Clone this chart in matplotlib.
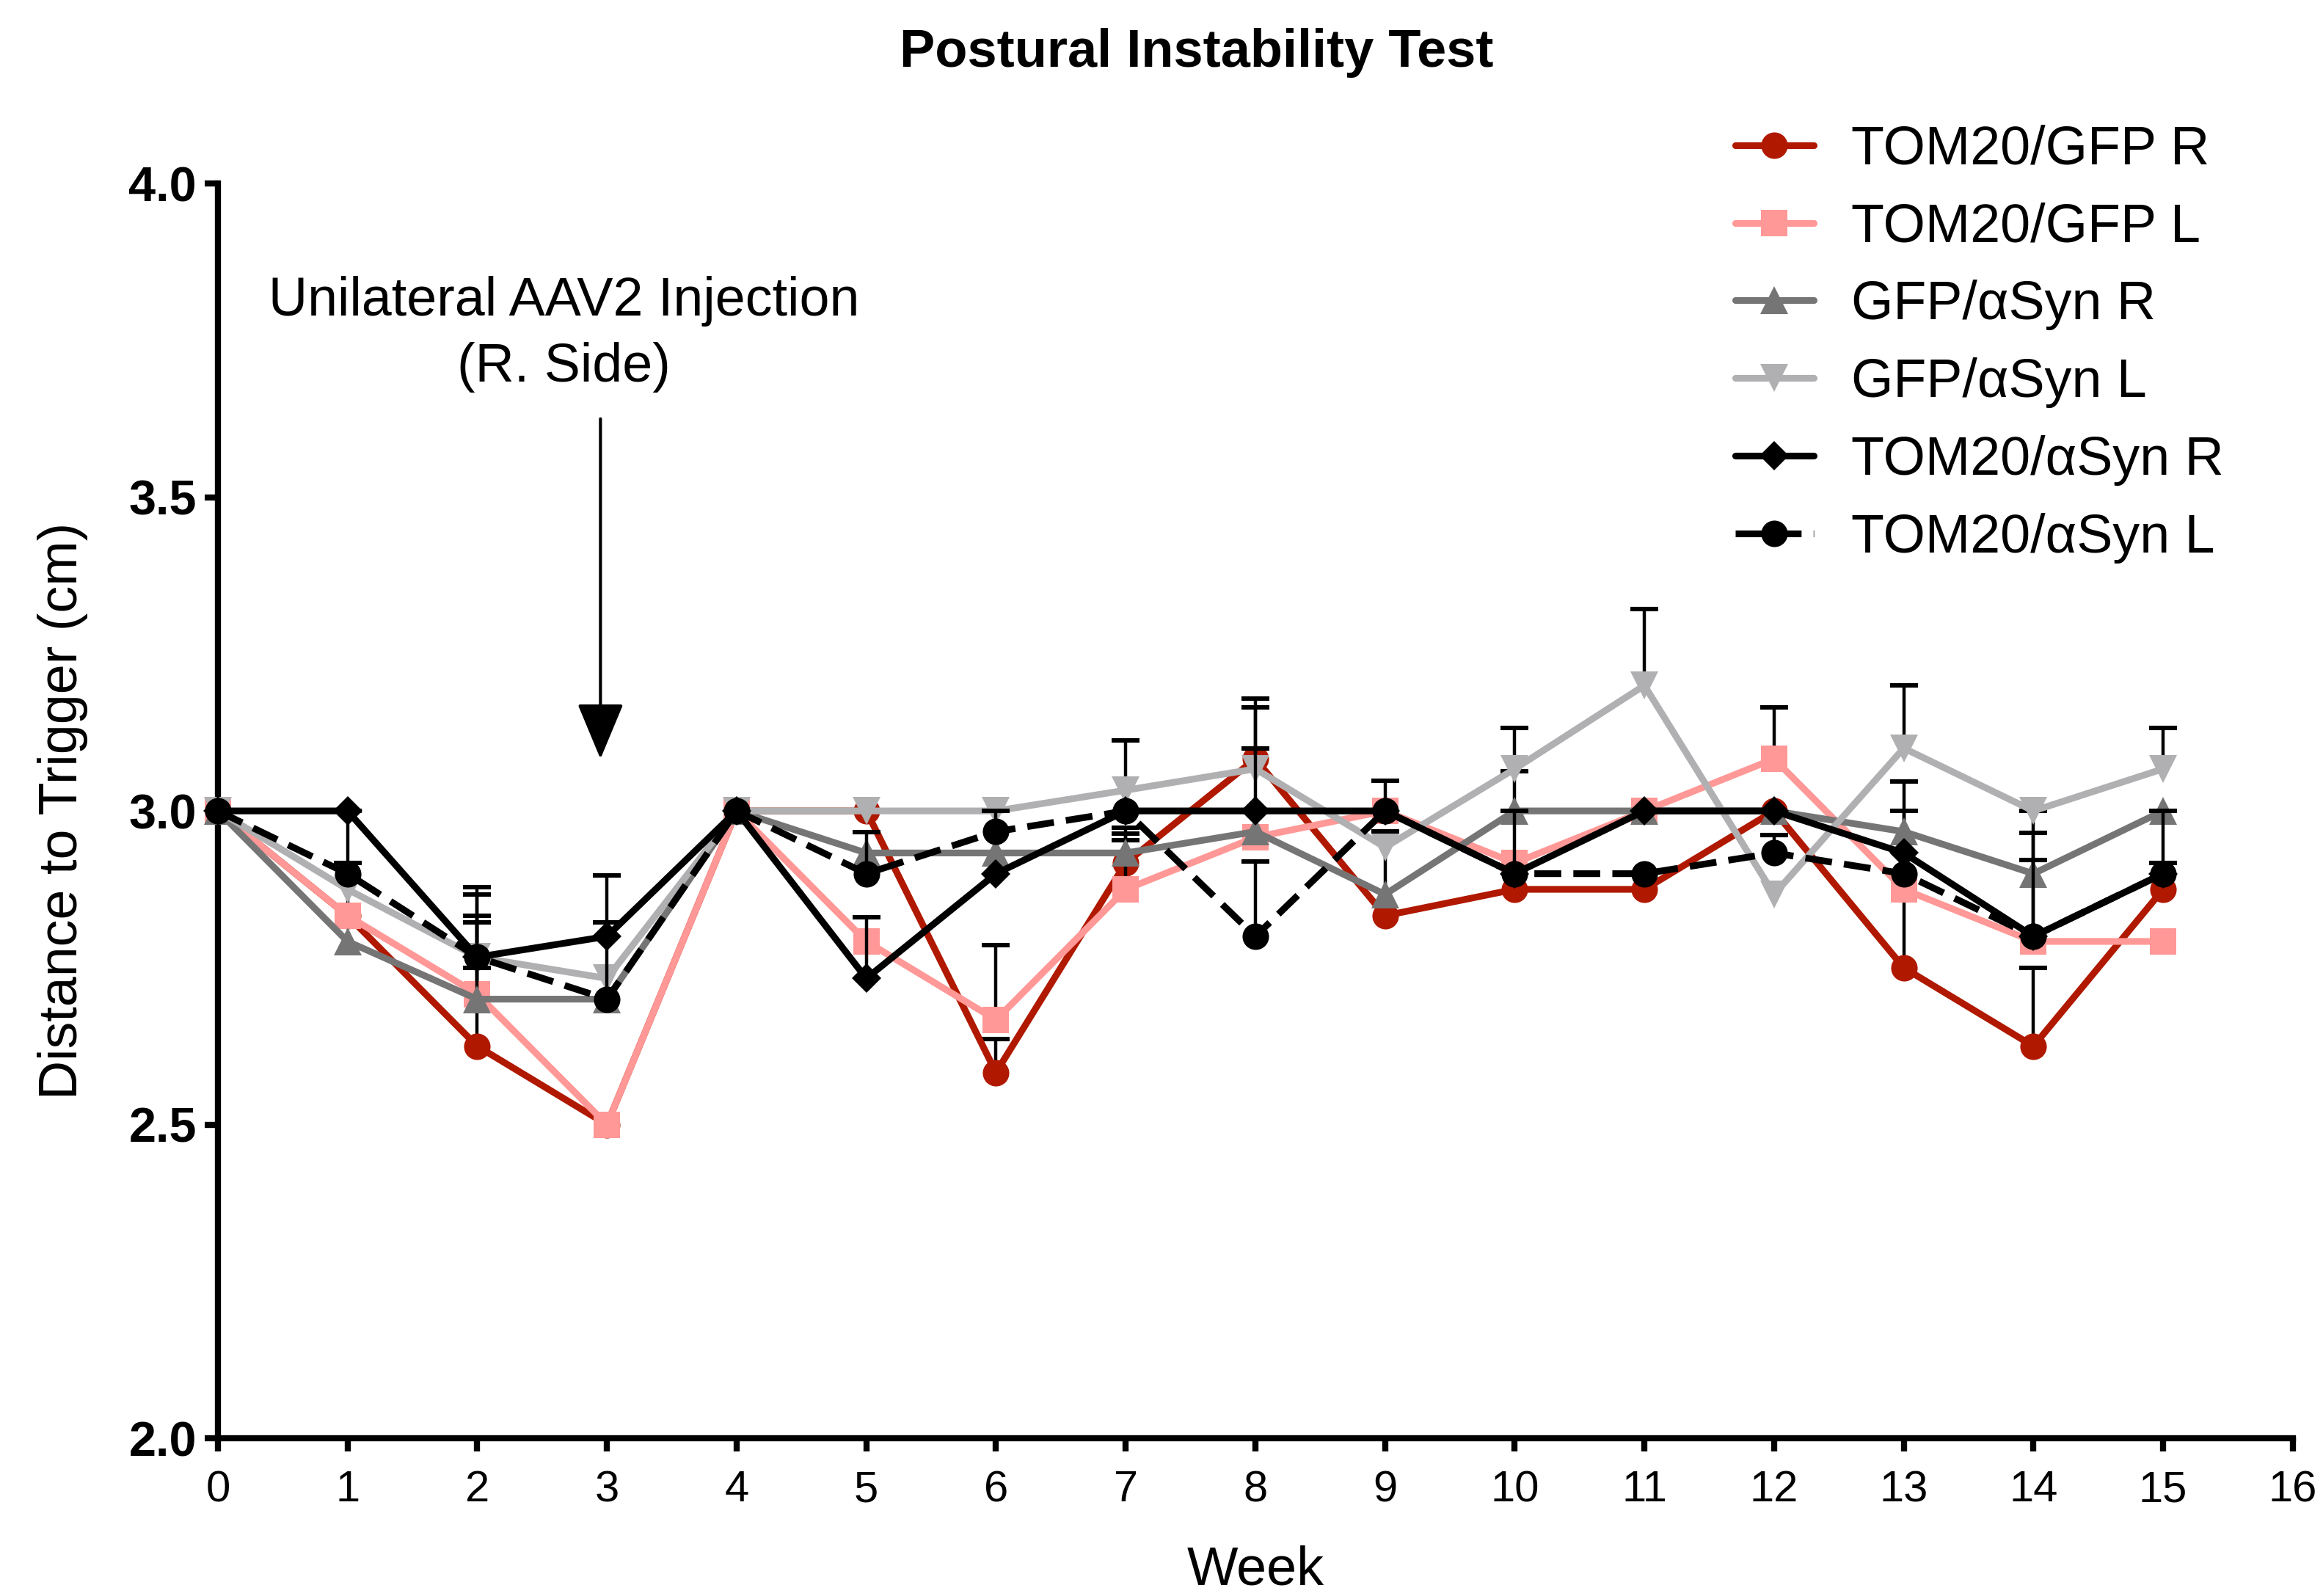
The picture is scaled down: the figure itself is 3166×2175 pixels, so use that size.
import numpy as np
import matplotlib
matplotlib.use("Agg")
import matplotlib.pyplot as plt

plt.rcParams['font.family'] = ['Liberation Sans', 'DejaVu Sans']

# weeks after start
weeks = np.arange(16)

labels = ["TOM20/GFP R", "TOM20/GFP L", "GFP/αSyn R", "GFP/αSyn L",
          "TOM20/αSyn R", "TOM20/αSyn L"]

# group means (cm)
tom_gfp_r = [3.0, 2.833, 2.625, 2.5, 3.0, 3.0, 2.583, 2.917, 3.083, 2.833, 2.875, 2.875, 3.0, 2.75, 2.625, 2.875]
tom_gfp_l = [3.0, 2.833, 2.708, 2.5, 3.0, 2.792, 2.667, 2.875, 2.958, 3.0, 2.917, 3.0, 3.083, 2.875, 2.792, 2.792]
gfp_syn_r = [3.0, 2.792, 2.7, 2.7, 3.0, 2.933, 2.933, 2.933, 2.967, 2.867, 3.0, 3.0, 3.0, 2.967, 2.9, 3.0]
gfp_syn_l = [3.0, 2.875, 2.767, 2.733, 3.0, 3.0, 3.0, 3.033, 3.067, 2.942, 3.067, 3.2, 2.867, 3.1, 3.0, 3.067]
tom_syn_r = [3.0, 3.0, 2.767, 2.8, 3.0, 2.733, 2.9, 3.0, 3.0, 3.0, 2.9, 3.0, 3.0, 2.933, 2.8, 2.9]
tom_syn_l = [3.0, 2.9, 2.767, 2.7, 3.0, 2.9, 2.967, 3.0, 2.8, 3.0, 2.9, 2.9, 2.933, 2.9, 2.8, 2.9]

# upper SEM bars (nan = no visible bar)
n = np.nan
err_tom_gfp_r = [n, n, 0.208, n, n, n, 0.053, 0.056, 0.096, n, n, n, n, 0.25, 0.125, 0.042]
err_tom_gfp_l = [n, 0.167, 0.114, n, n, n, 0.119, 0.089, n, n, n, n, 0.082, n, 0.13, n]
err_gfp_syn_r = [n, n, 0.05, n, n, n, n, 0.02, n, 0.1, 0.063, n, n, 0.08, 0.1, n]
err_gfp_syn_l = [n, n, 0.112, n, n, n, n, 0.08, 0.098, n, 0.065, 0.122, n, 0.1, n, 0.065]
err_tom_syn_r = [n, n, 0.1, 0.097, n, 0.097, n, n, 0.099, n, n, n, n, n, 0.165, n]
err_tom_syn_l = [n, 0.017, n, 0.122, n, 0.066, 0.033, n, 0.12, 0.048, 0.1, n, 0.029, n, n, 0.1]

means = [tom_gfp_r, tom_gfp_l, gfp_syn_r, gfp_syn_l, tom_syn_r, tom_syn_l]
errs = [err_tom_gfp_r, err_tom_gfp_l, err_gfp_syn_r, err_gfp_syn_l, err_tom_syn_r, err_tom_syn_l]

colors = ['#B01800', '#FF9896', '#757575', '#B0B0B2', '#000000', '#000000']
markers = ['o', 's', '^', 'v', 'D', 'o']
msizes = [13, 13, 13.5, 13.5, 10, 13]
styles = ['-', '-', '-', '-', '-', (0, (4, 1.8))]

fig = plt.figure(figsize=(15.83, 10.875), dpi=200)
ax = fig.add_axes([0.0938, 0.0988, 0.8932, 0.7862])

for i in range(6):
    y = np.array(means[i])
    e = np.array(errs[i])
    eb = ax.errorbar(weeks, y, yerr=[np.zeros_like(e), e], fmt='none',
                     ecolor='black', elinewidth=1.6, capsize=7, capthick=2.2,
                     zorder=2 + i * 0.5)
    eb[1][0].set_visible(False)
    for c in eb[1]:
        c.set_clip_on(False)
    ax.plot(weeks, y, color=colors[i], marker=markers[i], markersize=msizes[i],
            linestyle=styles[i], linewidth=3.3, label=labels[i],
            markeredgewidth=0, clip_on=False, solid_capstyle='round',
            zorder=2.2 + i * 0.5)

ax.set_xlim(0, 16)
ax.set_ylim(2.0, 4.0)
ax.set_xticks(np.arange(0, 17))
ax.set_yticks([2.0, 2.5, 3.0, 3.5, 4.0])
ax.set_yticklabels(['2.0', '2.5', '3.0', '3.5', '4.0'], fontweight='bold')
ax.tick_params(axis='both', direction='out', length=6.5, width=3.0)
ax.tick_params(axis='x', labelsize=21.5, pad=9)
ax.tick_params(axis='y', labelsize=24, pad=4)
for s in ['top', 'right']:
    ax.spines[s].set_visible(False)
for s in ['left', 'bottom']:
    ax.spines[s].set_linewidth(3.0)

ax.set_xlabel('Week', fontsize=26.5, labelpad=17)
ax.set_ylabel('Distance to Trigger (cm)', fontsize=26.5, labelpad=20)

fig.text(0.515, 0.967, 'Postural Instability Test', fontsize=26,
         fontweight='bold', ha='center', va='center')

ax.text(2.67, 3.76, 'Unilateral AAV2 Injection\n(R. Side)', fontsize=26.5,
        ha='center', va='center', multialignment='center', linespacing=1.4)
ax.annotate('', xy=(2.95, 3.083), xytext=(2.95, 3.625),
            arrowprops=dict(arrowstyle='-|>,head_length=1.2,head_width=0.5',
                            mutation_scale=20, lw=1.5, color='black',
                            shrinkA=0, shrinkB=0))

ax.legend(loc='upper left', bbox_to_anchor=(0.747, 0.922),
          bbox_transform=fig.transFigure, frameon=False, fontsize=26.5,
          handlelength=1.45, handletextpad=0.7, labelspacing=0.5,
          borderpad=0, borderaxespad=0)

fig.savefig('out.png', dpi=200)
